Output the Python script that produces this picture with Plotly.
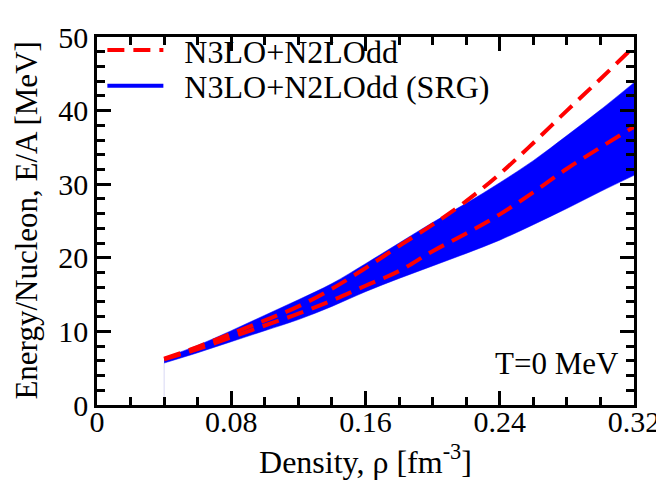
import plotly.graph_objects as go

# density grid (fm^-3)
rho = [0.04, 0.06, 0.08, 0.10, 0.12, 0.14, 0.16, 0.18, 0.20, 0.22, 0.24, 0.26, 0.28, 0.30, 0.32]

# SRG band (upper / lower edge), MeV
srg_upper = [6.4, 8.1, 10.1, 12.2, 14.3, 16.5, 19.2, 22.0, 24.8, 27.4, 30.2, 33.2, 36.6, 40.1, 43.8]
srg_lower = [5.7, 7.1, 8.6, 10.1, 11.6, 13.4, 15.4, 17.2, 18.9, 20.6, 22.4, 24.5, 26.7, 29.0, 31.2]

# N3LO+N2LOdd dashed curves, MeV
n3lo_upper = [6.3, 7.9, 9.7, 11.5, 13.4, 15.8, 18.6, 21.6, 24.5, 27.7, 31.4, 35.6, 40.0, 44.3, 48.7]
n3lo_lower = [6.2, 7.6, 9.2, 10.8, 12.4, 14.2, 16.2, 18.2, 20.9, 23.3, 25.9, 28.9, 32.1, 35.0, 37.8]

x_tickvals = [0, 0.08, 0.16, 0.24, 0.32]
x_ticktext = ["0", "0.08", "0.16", "0.24", "0.32"]
y_tickvals = [0, 10, 20, 30, 40, 50]
y_ticktext = ["0", "10", "20", "30", "40", "50"]

FONT = "Liberation Serif"
BLUE = "#0000ff"
RED = "#ff0000"

fig = go.Figure()

# faint edge line at band start
fig.add_trace(go.Scatter(x=[rho[0], rho[0]], y=[0, srg_lower[0]], mode="lines",
                         line=dict(color="#d8d8f4", width=1), showlegend=False, hoverinfo="skip"))

# SRG band
fig.add_trace(go.Scatter(x=rho, y=srg_lower, mode="lines",
                         line=dict(color=BLUE, width=0.5, shape="spline", smoothing=1),
                         showlegend=False, hoverinfo="skip"))
fig.add_trace(go.Scatter(x=rho, y=srg_upper, mode="lines",
                         line=dict(color=BLUE, width=0.5, shape="spline", smoothing=1),
                         fill="tonexty", fillcolor=BLUE, showlegend=False, hoverinfo="skip"))

# N3LO+N2LOdd dashed curves
dash = "17px,9px"
fig.add_trace(go.Scatter(x=rho, y=n3lo_upper, mode="lines", name="\u2002N3LO+N2LOdd",
                         line=dict(color=RED, width=4, dash=dash, shape="spline", smoothing=1),
                         legend="legend"))
fig.add_trace(go.Scatter(x=rho, y=n3lo_lower, mode="lines", name="N3LO+N2LOdd",
                         line=dict(color=RED, width=4, dash=dash, shape="spline", smoothing=1),
                         showlegend=False))

# legend entry for the band
fig.add_trace(go.Scatter(x=[None], y=[None], mode="lines", name="\u2002N3LO+N2LOdd (SRG)",
                         line=dict(color=BLUE, width=4), legend="legend2"))

axis_common = dict(
    showline=True, linecolor="black", linewidth=2.5, mirror="allticks",
    ticks="inside", tickcolor="black", tickwidth=2.5, ticklen=14,
    showgrid=False, zeroline=False, ticklabeloverflow="allow",
    tickfont=dict(family=FONT, size=30, color="black"),
)

fig.update_xaxes(range=[0, 0.32], tickmode="array", tickvals=x_tickvals, ticktext=x_ticktext,
                 ticklabelstandoff=-12,
                 minor=dict(dtick=0.02, ticks="inside", ticklen=8, tickwidth=2.5, tickcolor="black", showgrid=False),
                 title=dict(text="Density, ρ [fm<sup>-3</sup>]", font=dict(family=FONT, size=32, color="black"), standoff=14),
                 **axis_common)
fig.update_yaxes(range=[0, 50], tickmode="array", tickvals=y_tickvals, ticktext=y_ticktext,
                 minor=dict(dtick=2, ticks="inside", ticklen=8, tickwidth=2.5, tickcolor="black", showgrid=False),
                 **axis_common)

# y-axis title placed close to the left edge, as in the original
fig.add_annotation(x=-0.133, y=0.5, xref="paper", yref="paper", text="Energy/Nucleon, E/A [MeV]",
                   textangle=-90, showarrow=False, xanchor="center", yanchor="middle",
                   font=dict(family=FONT, size=31, color="black"))

fig.add_annotation(x=0.3125, y=3.0, xref="x", yref="y", text="T=0 MeV", showarrow=False,
                   xanchor="right", yanchor="bottom", font=dict(family=FONT, size=31, color="black"))

leg_common = dict(x=0.01, xanchor="left", yanchor="middle", bgcolor="rgba(0,0,0,0)",
                  font=dict(family=FONT, size=32, color="black"), itemwidth=56)

fig.update_layout(
    width=664, height=492,
    margin=dict(l=89, r=32, t=15, b=95),
    plot_bgcolor="white", paper_bgcolor="white",
    font=dict(family=FONT, size=30, color="black"),
    showlegend=True,
    legend=dict(y=0.964, **leg_common),
    legend2=dict(y=0.867, **leg_common),
)

fig.write_html("out.html")
